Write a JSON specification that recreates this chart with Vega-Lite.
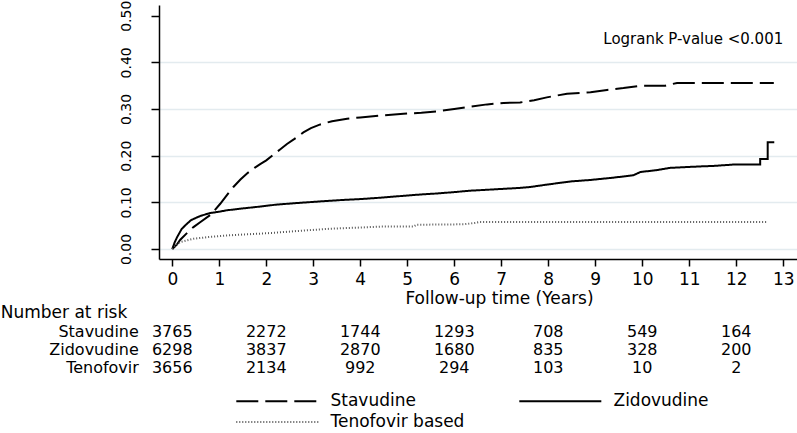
{
  "$schema": "https://vega.github.io/schema/vega-lite/v6.json",
  "padding": {"left": 0, "top": 0, "right": 0, "bottom": 0},
  "background": "white",
  "bounds": "flush",
  "spacing": 64,
  "config": {
    "view": {"stroke": null},
    "font": "DejaVu Sans",
    "axis": {"labelFont": "DejaVu Sans", "titleFont": "DejaVu Sans", "labelColor": "black", "titleColor": "black", "titleFontWeight": "normal"}
  },
  "datasets": {
    "curves": [
      {"g": "Stavudine", "i": 1, "t": 0, "v": 0},
      {"g": "Stavudine", "i": 2, "t": 0.1, "v": 0.01},
      {"g": "Stavudine", "i": 3, "t": 0.17, "v": 0.02},
      {"g": "Stavudine", "i": 4, "t": 0.3, "v": 0.033},
      {"g": "Stavudine", "i": 5, "t": 0.45, "v": 0.047},
      {"g": "Stavudine", "i": 6, "t": 0.6, "v": 0.058},
      {"g": "Stavudine", "i": 7, "t": 0.81, "v": 0.073},
      {"g": "Stavudine", "i": 8, "t": 0.9, "v": 0.083},
      {"g": "Stavudine", "i": 9, "t": 1.02, "v": 0.097},
      {"g": "Stavudine", "i": 10, "t": 1.15, "v": 0.114},
      {"g": "Stavudine", "i": 11, "t": 1.3, "v": 0.133},
      {"g": "Stavudine", "i": 12, "t": 1.45, "v": 0.149},
      {"g": "Stavudine", "i": 13, "t": 1.59, "v": 0.162},
      {"g": "Stavudine", "i": 14, "t": 1.75, "v": 0.174},
      {"g": "Stavudine", "i": 15, "t": 1.87, "v": 0.182},
      {"g": "Stavudine", "i": 16, "t": 2.0, "v": 0.19},
      {"g": "Stavudine", "i": 17, "t": 2.16, "v": 0.203},
      {"g": "Stavudine", "i": 18, "t": 2.3, "v": 0.214},
      {"g": "Stavudine", "i": 19, "t": 2.44, "v": 0.225},
      {"g": "Stavudine", "i": 20, "t": 2.6, "v": 0.236},
      {"g": "Stavudine", "i": 21, "t": 2.79, "v": 0.25},
      {"g": "Stavudine", "i": 22, "t": 2.95, "v": 0.259},
      {"g": "Stavudine", "i": 23, "t": 3.15, "v": 0.267},
      {"g": "Stavudine", "i": 24, "t": 3.4, "v": 0.274},
      {"g": "Stavudine", "i": 25, "t": 3.72, "v": 0.279},
      {"g": "Stavudine", "i": 26, "t": 4.0, "v": 0.282},
      {"g": "Stavudine", "i": 27, "t": 4.43, "v": 0.286},
      {"g": "Stavudine", "i": 28, "t": 4.92, "v": 0.29},
      {"g": "Stavudine", "i": 29, "t": 5.3, "v": 0.292},
      {"g": "Stavudine", "i": 30, "t": 5.63, "v": 0.295},
      {"g": "Stavudine", "i": 31, "t": 6.0, "v": 0.3},
      {"g": "Stavudine", "i": 32, "t": 6.34, "v": 0.305},
      {"g": "Stavudine", "i": 33, "t": 6.7, "v": 0.31},
      {"g": "Stavudine", "i": 34, "t": 7.05, "v": 0.313},
      {"g": "Stavudine", "i": 35, "t": 7.4, "v": 0.314},
      {"g": "Stavudine", "i": 36, "t": 7.7, "v": 0.319},
      {"g": "Stavudine", "i": 37, "t": 7.97, "v": 0.325},
      {"g": "Stavudine", "i": 38, "t": 8.4, "v": 0.333},
      {"g": "Stavudine", "i": 39, "t": 8.9, "v": 0.336},
      {"g": "Stavudine", "i": 40, "t": 9.25, "v": 0.341},
      {"g": "Stavudine", "i": 41, "t": 9.6, "v": 0.345},
      {"g": "Stavudine", "i": 42, "t": 9.96, "v": 0.35},
      {"g": "Stavudine", "i": 43, "t": 10.49, "v": 0.35},
      {"g": "Stavudine", "i": 44, "t": 10.74, "v": 0.356},
      {"g": "Stavudine", "i": 45, "t": 12.8, "v": 0.356},
      {"g": "Zidovudine", "i": 1, "t": 0, "v": 0},
      {"g": "Zidovudine", "i": 2, "t": 0.05, "v": 0.014},
      {"g": "Zidovudine", "i": 3, "t": 0.1, "v": 0.025},
      {"g": "Zidovudine", "i": 4, "t": 0.2, "v": 0.043},
      {"g": "Zidovudine", "i": 5, "t": 0.3, "v": 0.053},
      {"g": "Zidovudine", "i": 6, "t": 0.4, "v": 0.062},
      {"g": "Zidovudine", "i": 7, "t": 0.6, "v": 0.071},
      {"g": "Zidovudine", "i": 8, "t": 0.8, "v": 0.077},
      {"g": "Zidovudine", "i": 9, "t": 1.0, "v": 0.08},
      {"g": "Zidovudine", "i": 10, "t": 1.16, "v": 0.083},
      {"g": "Zidovudine", "i": 11, "t": 1.5, "v": 0.087},
      {"g": "Zidovudine", "i": 12, "t": 1.87, "v": 0.091},
      {"g": "Zidovudine", "i": 13, "t": 2.2, "v": 0.095},
      {"g": "Zidovudine", "i": 14, "t": 2.58, "v": 0.098},
      {"g": "Zidovudine", "i": 15, "t": 3.0, "v": 0.101},
      {"g": "Zidovudine", "i": 16, "t": 3.29, "v": 0.103},
      {"g": "Zidovudine", "i": 17, "t": 3.6, "v": 0.105},
      {"g": "Zidovudine", "i": 18, "t": 4.0, "v": 0.107},
      {"g": "Zidovudine", "i": 19, "t": 4.43, "v": 0.11},
      {"g": "Zidovudine", "i": 20, "t": 4.92, "v": 0.114},
      {"g": "Zidovudine", "i": 21, "t": 5.3, "v": 0.117},
      {"g": "Zidovudine", "i": 22, "t": 5.63, "v": 0.119},
      {"g": "Zidovudine", "i": 23, "t": 6.0, "v": 0.122},
      {"g": "Zidovudine", "i": 24, "t": 6.34, "v": 0.125},
      {"g": "Zidovudine", "i": 25, "t": 6.7, "v": 0.127},
      {"g": "Zidovudine", "i": 26, "t": 7.05, "v": 0.129},
      {"g": "Zidovudine", "i": 27, "t": 7.4, "v": 0.131},
      {"g": "Zidovudine", "i": 28, "t": 7.62, "v": 0.133},
      {"g": "Zidovudine", "i": 29, "t": 7.9, "v": 0.137},
      {"g": "Zidovudine", "i": 30, "t": 8.26, "v": 0.142},
      {"g": "Zidovudine", "i": 31, "t": 8.5, "v": 0.145},
      {"g": "Zidovudine", "i": 32, "t": 8.9, "v": 0.148},
      {"g": "Zidovudine", "i": 33, "t": 9.39, "v": 0.153},
      {"g": "Zidovudine", "i": 34, "t": 9.81, "v": 0.158},
      {"g": "Zidovudine", "i": 35, "t": 9.96, "v": 0.165},
      {"g": "Zidovudine", "i": 36, "t": 10.3, "v": 0.169},
      {"g": "Zidovudine", "i": 37, "t": 10.6, "v": 0.174},
      {"g": "Zidovudine", "i": 38, "t": 11.23, "v": 0.177},
      {"g": "Zidovudine", "i": 39, "t": 11.5, "v": 0.178},
      {"g": "Zidovudine", "i": 40, "t": 11.94, "v": 0.181},
      {"g": "Zidovudine", "i": 41, "t": 12.51, "v": 0.181},
      {"g": "Zidovudine", "i": 42, "t": 12.51, "v": 0.193},
      {"g": "Zidovudine", "i": 43, "t": 12.67, "v": 0.193},
      {"g": "Zidovudine", "i": 44, "t": 12.67, "v": 0.229},
      {"g": "Zidovudine", "i": 45, "t": 12.81, "v": 0.229},
      {"g": "Tenofovir based", "i": 1, "t": 0, "v": 0},
      {"g": "Tenofovir based", "i": 2, "t": 0.1, "v": 0.01},
      {"g": "Tenofovir based", "i": 3, "t": 0.17, "v": 0.015},
      {"g": "Tenofovir based", "i": 4, "t": 0.45, "v": 0.022},
      {"g": "Tenofovir based", "i": 5, "t": 0.8, "v": 0.026},
      {"g": "Tenofovir based", "i": 6, "t": 1.16, "v": 0.029},
      {"g": "Tenofovir based", "i": 7, "t": 1.5, "v": 0.031},
      {"g": "Tenofovir based", "i": 8, "t": 1.87, "v": 0.033},
      {"g": "Tenofovir based", "i": 9, "t": 2.2, "v": 0.035},
      {"g": "Tenofovir based", "i": 10, "t": 2.58, "v": 0.038},
      {"g": "Tenofovir based", "i": 11, "t": 3.0, "v": 0.041},
      {"g": "Tenofovir based", "i": 12, "t": 3.29, "v": 0.043},
      {"g": "Tenofovir based", "i": 13, "t": 3.7, "v": 0.045},
      {"g": "Tenofovir based", "i": 14, "t": 4.0, "v": 0.046},
      {"g": "Tenofovir based", "i": 15, "t": 4.43, "v": 0.048},
      {"g": "Tenofovir based", "i": 16, "t": 5.13, "v": 0.048},
      {"g": "Tenofovir based", "i": 17, "t": 5.2, "v": 0.052},
      {"g": "Tenofovir based", "i": 18, "t": 6.2, "v": 0.053},
      {"g": "Tenofovir based", "i": 19, "t": 6.45, "v": 0.056},
      {"g": "Tenofovir based", "i": 20, "t": 6.55, "v": 0.058},
      {"g": "Tenofovir based", "i": 21, "t": 12.65, "v": 0.058}
    ],
    "risk": [
      {"r": "Stavudine", "year": 0, "n": "3765"},
      {"r": "Stavudine", "year": 2, "n": "2272"},
      {"r": "Stavudine", "year": 4, "n": "1744"},
      {"r": "Stavudine", "year": 6, "n": "1293"},
      {"r": "Stavudine", "year": 8, "n": "708"},
      {"r": "Stavudine", "year": 10, "n": "549"},
      {"r": "Stavudine", "year": 12, "n": "164"},
      {"r": "Zidovudine", "year": 0, "n": "6298"},
      {"r": "Zidovudine", "year": 2, "n": "3837"},
      {"r": "Zidovudine", "year": 4, "n": "2870"},
      {"r": "Zidovudine", "year": 6, "n": "1680"},
      {"r": "Zidovudine", "year": 8, "n": "835"},
      {"r": "Zidovudine", "year": 10, "n": "328"},
      {"r": "Zidovudine", "year": 12, "n": "200"},
      {"r": "Tenofovir", "year": 0, "n": "3656"},
      {"r": "Tenofovir", "year": 2, "n": "2134"},
      {"r": "Tenofovir", "year": 4, "n": "992"},
      {"r": "Tenofovir", "year": 6, "n": "294"},
      {"r": "Tenofovir", "year": 8, "n": "103"},
      {"r": "Tenofovir", "year": 10, "n": "10"},
      {"r": "Tenofovir", "year": 12, "n": "2"}
    ],
    "note": [
      {"t": 13, "v": 0.45, "label": "Logrank P-value <0.001"}
    ]
  },
  "vconcat": [
    {
      "width": 638.3,
      "height": 254,
      "layer": [
        {
          "data": {"name": "curves"},
          "mark": {"type": "line", "strokeWidth": 2, "interpolate": "linear"},
          "encoding": {
            "x": {
              "field": "t", "type": "quantitative",
              "scale": {"domain": [-0.283, 13.3], "nice": false, "zero": false},
              "axis": {
                "values": [0,1,2,3,4,5,6,7,8,9,10,11,12,13],
                "grid": false,
                "domainColor": "black", "domainWidth": 1.5,
                "tickColor": "black", "tickWidth": 1.5, "tickSize": 7,
                "labelFontSize": 17, "labelPadding": 6,
                "title": "Follow-up time (Years)",
                "titleFontSize": 17,
                "titleX": 340, "titleY": 40, "titleBaseline": "middle", "titleAlign": "center"
              }
            },
            "y": {
              "field": "v", "type": "quantitative",
              "scale": {"domain": [-0.0214, 0.523], "nice": false, "zero": false},
              "axis": {
                "values": [0, 0.1, 0.2, 0.3, 0.4, 0.5],
                "format": ".2f",
                "grid": true,
                "gridColor": {"condition": {"test": "datum.value >= 0.5", "value": "transparent"}, "value": "#e3ebef"},
                "gridWidth": 1.5,
                "domainColor": "black", "domainWidth": 1.5,
                "tickColor": "black", "tickWidth": 1.5, "tickSize": 8,
                "labelFontSize": 14, "labelAngle": -90, "labelAlign": "center", "labelBaseline": "bottom",
                "labelPadding": 17,
                "title": null
              }
            },
            "order": {"field": "i", "type": "quantitative"},
            "strokeDash": {
              "field": "g", "type": "nominal",
              "sort": ["Stavudine", "Zidovudine", "Tenofovir based"],
              "scale": {"domain": ["Stavudine", "Zidovudine", "Tenofovir based"], "range": [[22, 7], [1, 0], [1, 2]]},
              "legend": {
                "orient": "none", "legendX": 146, "legendY": 386.5, "direction": "horizontal",
                "values": ["Stavudine", "Zidovudine", "Tenofovir based"],
                "columns": 2, "columnPadding": 50, "rowPadding": 3,
                "symbolType": "M-9.2,0H0.45", "symbolSize": 289, "symbolStrokeWidth": 2,
                "labelFont": "DejaVu Sans", "labelFontSize": 17, "labelColor": "black", "labelOffset": 6.5,
                "title": null, "padding": 0
              }
            },
            "color": {
              "field": "g", "type": "nominal",
              "sort": ["Stavudine", "Zidovudine", "Tenofovir based"],
              "scale": {"domain": ["Stavudine", "Zidovudine", "Tenofovir based"], "range": ["#000000", "#000000", "#555555"]},
              "legend": {
                "orient": "none", "legendX": 146, "legendY": 386.5, "direction": "horizontal",
                "values": ["Stavudine", "Zidovudine", "Tenofovir based"],
                "columns": 2, "columnPadding": 50, "rowPadding": 3,
                "symbolType": "M-9.2,0H0.45", "symbolSize": 289, "symbolStrokeWidth": 2,
                "labelFont": "DejaVu Sans", "labelFontSize": 17, "labelColor": "black", "labelOffset": 6.5,
                "title": null, "padding": 0
              }
            }
          }
        },
        {
          "data": {"name": "note"},
          "mark": {"type": "text", "align": "right", "baseline": "middle", "font": "DejaVu Sans", "fontSize": 15, "color": "black"},
          "encoding": {
            "x": {"field": "t", "type": "quantitative"},
            "y": {"field": "v", "type": "quantitative"},
            "text": {"field": "label"}
          }
        }
      ]
    },
    {
      "width": 638.3,
      "height": 54,
      "data": {"name": "risk"},
      "mark": {"type": "text", "align": "center", "baseline": "middle", "font": "DejaVu Sans", "fontSize": 16, "color": "black"},
      "encoding": {
        "x": {"field": "year", "type": "quantitative", "scale": {"domain": [-0.283, 13.3], "nice": false, "zero": false}, "axis": null},
        "y": {
          "field": "r", "type": "nominal",
          "sort": ["Stavudine", "Zidovudine", "Tenofovir"],
          "axis": {
            "domain": false, "ticks": false, "tickSize": 0, "grid": false,
            "labelFontSize": 16, "labelPadding": 20.7, "labelAlign": "right", "labelBaseline": "middle",
            "title": "Number at risk", "titleAngle": 0, "titleAlign": "left", "titleBaseline": "middle",
            "titleX": -158.7, "titleY": -10, "titleFontSize": 17
          }
        },
        "text": {"field": "n"}
      }
    }
  ]
}
